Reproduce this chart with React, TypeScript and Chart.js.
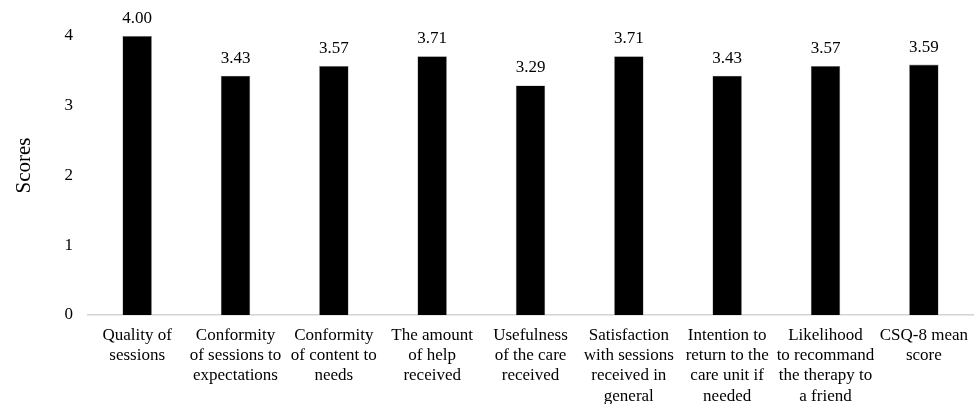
import React, { useEffect, useRef } from "react";
import { Chart, registerables } from "chart.js";

Chart.register(...registerables);

const categories: string[][] = [
  ["Quality of", "sessions"],
  ["Conformity", "of sessions to", "expectations"],
  ["Conformity", "of content to", "needs"],
  ["The amount", "of help", "received"],
  ["Usefulness", "of the care", "received"],
  ["Satisfaction", "with sessions", "received in", "general"],
  ["Intention to", "return to the", "care unit if", "needed"],
  ["Likelihood", "to recommand", "the therapy to", "a friend"],
  ["CSQ-8 mean", "score"],
];

const scores: number[] = [4.0, 3.43, 3.57, 3.71, 3.29, 3.71, 3.43, 3.57, 3.59];
const yTicks: number[] = [0, 1, 2, 3, 4];
const yTitle = "Scores";

const FONT = "'Liberation Serif', 'Times New Roman', serif";

export default function App() {
  const ref = useRef<HTMLCanvasElement | null>(null);

  useEffect(() => {
    document.body.style.margin = "0";
    if (!ref.current) return;
    const valueLabels = {
      id: "valueLabels",
      afterDatasetsDraw(chart: any) {
        const ctx = chart.ctx;
        const meta = chart.getDatasetMeta(0);
        ctx.save();
        ctx.fillStyle = "#000";
        ctx.font = `17px ${FONT}`;
        ctx.textAlign = "center";
        ctx.textBaseline = "bottom";
        meta.data.forEach((bar: any, i: number) => {
          ctx.fillText(scores[i].toFixed(2), bar.x, bar.y - 9);
        });
        ctx.restore();
      },
    };
    const yTitlePlugin = {
      id: "yTitlePlugin",
      afterDraw(chart: any) {
        const ctx = chart.ctx;
        const area = chart.chartArea;
        ctx.save();
        ctx.translate(24, (area.top + area.bottom) / 2 - 10);
        ctx.rotate(-Math.PI / 2);
        ctx.fillStyle = "#000";
        ctx.font = `21px ${FONT}`;
        ctx.textAlign = "center";
        ctx.textBaseline = "middle";
        ctx.fillText(yTitle, 0, 0);
        ctx.restore();
      },
    };
    const chart = new Chart(ref.current, {
      type: "bar",
      data: {
        labels: categories,
        datasets: [
          {
            data: scores,
            backgroundColor: "#000",
            borderColor: "#8a8a8a",
            borderWidth: 0.6,
            barPercentage: 0.3,
            categoryPercentage: 1,
          },
        ],
      },
      options: {
        animation: false,
        responsive: false,
        maintainAspectRatio: false,
        devicePixelRatio: 1,
        layout: { padding: { top: 36, left: 10, right: 7, bottom: 0 } },
        plugins: {
          legend: { display: false },
          tooltip: { enabled: false },
        },
        scales: {
          x: {
            grid: { display: false, drawTicks: false },
            border: { display: true, color: "#d4d4d4", width: 1.5 },
            ticks: {
              color: "#000",
              font: { family: FONT, size: 17, lineHeight: 1.2 },
              maxRotation: 0,
              autoSkip: false,
              padding: 10,
            },
            afterFit(scale: any) {
              scale.height = 89;
            },
          },
          y: {
            min: 0,
            max: 4,
            afterBuildTicks(scale: any) {
              scale.ticks = yTicks.map((v) => ({ value: v }));
            },
            grid: { display: false, drawTicks: false },
            border: { display: false },
            ticks: {
              color: "#000",
              font: { family: FONT, size: 17 },
              padding: 15,
            },
            title: { display: false },
            afterFit(scale: any) {
              scale.width = 78;
            },
          },
        },
      },
      plugins: [valueLabels, yTitlePlugin],
    });
    return () => chart.destroy();
  }, []);

  return (
    <div style={{ width: 980, height: 404 }}>
      <canvas ref={ref} width={980} height={404} style={{ display: "block" }} />
    </div>
  );
}
